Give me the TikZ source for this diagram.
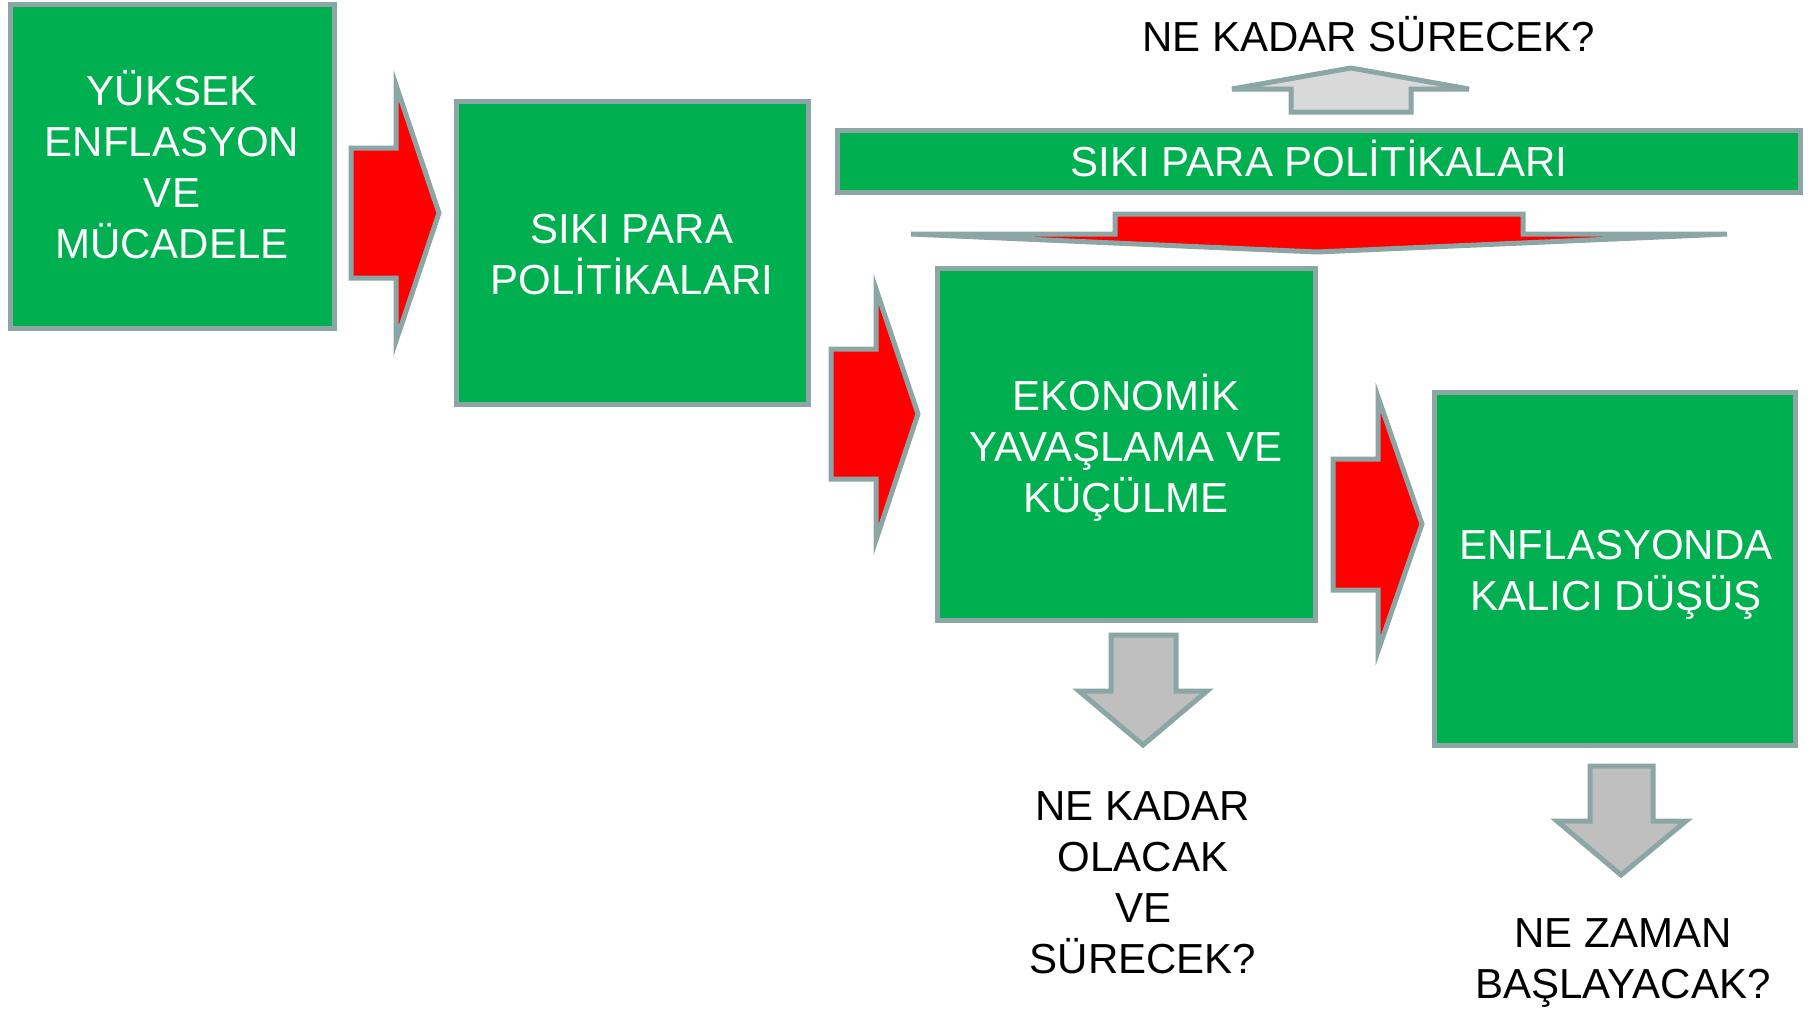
\documentclass[tikz,border=0pt]{standalone}
\usepackage{fontspec}
\setmainfont{Liberation Sans}
\definecolor{boxgreen}{RGB}{0,176,80}
\definecolor{edgegray}{RGB}{140,165,165}
\definecolor{lightfill}{RGB}{217,217,217}
\definecolor{midfill}{RGB}{191,191,191}
\definecolor{arrowred}{RGB}{255,0,0}
\begin{document}
\begin{tikzpicture}[x=1pt,y=-1pt,
  greenbox/.style={draw=edgegray,line width=5pt,fill=boxgreen},
  boxtext/.style={text=white,align=center,font=\fontsize{42}{51}\selectfont,inner sep=0pt},
  redblock/.style={draw=edgegray,line width=5pt,fill=arrowred,line join=miter,miter limit=20},
  grayblock/.style={draw=edgegray,line width=5pt,fill=midfill,line join=miter},
  lightblock/.style={draw=edgegray,line width=5pt,fill=lightfill,line join=miter},
  question/.style={text=black,align=center,font=\fontsize{42}{51}\selectfont,inner sep=0pt}]
\useasboundingbox (0,0) rectangle (1814,1009);
% green boxes
\path[greenbox] (10,4) rectangle (334,328);
\node[boxtext] (b1) at (172,164.5) {YÜKSEK\\ENFLASYON\\VE\\MÜCADELE};
\path[greenbox] (456,101) rectangle (808,404);
\node[boxtext] (b2) at (632,255) {SIKI PARA\\POLİTİKALARI};
\path[greenbox] (837,130) rectangle (1800,192);
\node[boxtext] (bar) at (1319,158.5) {SIKI PARA POLİTİKALARI};
\path[greenbox] (937,268) rectangle (1315,620);
\node[boxtext] (b3) at (1126,448) {EKONOMİK\\YAVAŞLAMA VE\\KÜÇÜLME};
\path[greenbox] (1434,392) rectangle (1795,745);
\node[boxtext] (b4) at (1616,575) {ENFLASYONDA\\KALICI DÜŞÜŞ};
% red block arrows
\draw[redblock] (351,148) -- (396,148) -- (396,85) -- (439,213) -- (396,341) -- (396,278) -- (351,278) -- cycle;
\draw[redblock] (831,349) -- (876,349) -- (876,289) -- (918,414) -- (876,540) -- (876,479) -- (831,479) -- cycle;
\draw[redblock] (1333,459) -- (1378,459) -- (1378,397) -- (1422,524) -- (1378,651) -- (1378,590) -- (1333,590) -- cycle;
\draw[redblock] (1115,214) -- (1523,214) -- (1523,234) -- (1727,234) -- (1317,252) -- (911,234) -- (1115,234) -- cycle;
% up light arrow
\draw[lightblock] (1291,112) -- (1291,89) -- (1232,89) -- (1351,68) -- (1469,89) -- (1411,89) -- (1411,112) -- cycle;
% gray down arrows
\draw[grayblock] (1111,635) -- (1176,635) -- (1176,691) -- (1207,691) -- (1143,745) -- (1079,691) -- (1111,691) -- cycle;
\draw[grayblock] (1590,766) -- (1653,766) -- (1653,821) -- (1686,821) -- (1621,875) -- (1557,821) -- (1590,821) -- cycle;
% questions
\node[question] (q1) at (1369,34) {NE KADAR SÜRECEK?};
\node[question] (q2) at (1143,883) {NE KADAR\\OLACAK\\VE\\SÜRECEK?};
\node[question] (q3) at (1623,963) {NE ZAMAN\\BAŞLAYACAK?};
\end{tikzpicture}
\end{document}
